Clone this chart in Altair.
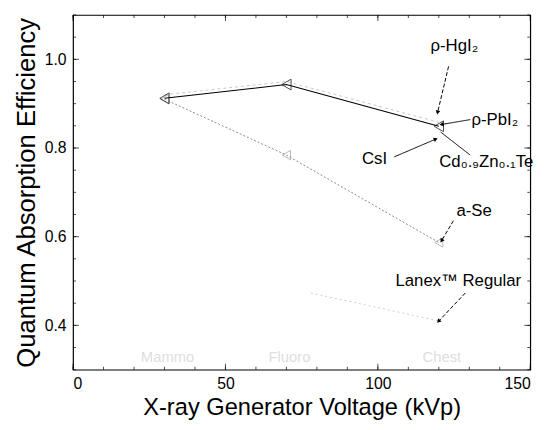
import math
import altair as alt
import pandas as pd

# ---- data ----
kvp = [30, 70, 120]
qae_main = [0.912, 0.943, 0.849]      # p-HgI2 / p-PbI2 / CdZnTe / CsI (black)
qae_gray = [0.92, 0.95, 0.858]        # companion light-grey dashed curve
qae_ase = [0.91, 0.784, 0.587]        # a-Se
lanex_kvp = [78, 120]
lanex_qae = [0.473, 0.41]             # Lanex Regular

label_text = ["ρ-HgI₂", "ρ-PbI₂", "CsI", "Cd₀.₉Zn₀.₁Te", "a-Se", "Lanex™ Regular"]
label_x = [125.1, 138.4, 98.9, 135.6, 131.6, 126.4]
label_y = [1.029, 0.862, 0.776, 0.769, 0.658, 0.500]

arrow_x1 = [123.2, 130.3, 105.4, 130.3, 124.8, 128.7]
arrow_y1 = [0.984, 0.864, 0.780, 0.784, 0.636, 0.473]
arrow_x2 = [119.6, 120.9, 119.0, 120.6, 120.9, 119.9]
arrow_y2 = [0.880, 0.853, 0.820, 0.836, 0.591, 0.409]
arrow_dash = ["dash", "solid", "solid", "solid", "dash", "dash"]
arrow_head = [True, True, True, False, True, True]

exam_text = ["Mammo", "Fluoro", "Chest"]
exam_x = [31, 71, 121]
exam_y = [0.329, 0.329, 0.329]

x_major = [0, 50, 100, 150]
x_minor = list(range(0, 151, 10))
y_major = [0.4, 0.6, 0.8, 1.0]
y_minor = [round(0.3 + 0.05 * i, 2) for i in range(17)]

W, H = 464, 360
XD, YD = [0, 150], [0.3, 1.1]
FONT = "Liberation Sans"

# ---- tables ----
main_df = pd.DataFrame({"kvp": kvp, "q": qae_main})
gray_df = pd.DataFrame({"kvp": kvp, "q": qae_gray})
ase_df = pd.DataFrame({"kvp": kvp, "q": qae_ase})
lanex_df = pd.DataFrame({"kvp": lanex_kvp, "q": lanex_qae})
lab_df = pd.DataFrame({"t": label_text, "x": label_x, "y": label_y})
exam_df = pd.DataFrame({"t": exam_text, "x": exam_x, "y": exam_y})
arr_df = pd.DataFrame({"x1": arrow_x1, "y1": arrow_y1, "x2": arrow_x2,
                       "y2": arrow_y2, "dash": arrow_dash, "head": arrow_head})
sx = W / (XD[1] - XD[0])
sy = H / (YD[1] - YD[0])
arr_df["ang"] = [
    math.degrees(math.atan2((b - a) * sx, (d - c) * sy)) % 360
    for a, b, c, d in zip(arr_df.x1, arr_df.x2, arr_df.y1, arr_df.y2)
]
head_df = arr_df[arr_df["head"]]

xs = alt.Scale(domain=XD, nice=False, zero=False)
ys = alt.Scale(domain=YD, nice=False, zero=False)

# ---- axes (labels + titles only; ticks drawn inward below) ----
ax_bottom = alt.Axis(values=x_major, ticks=False, domain=False, grid=False,
                     title="X-ray Generator Voltage (kVp)", format="d",
                     labelFontSize=16, labelFont=FONT, labelColor="black",
                     labelPadding=6, titleFont=FONT, titleFontSize=24,
                     titleFontWeight="normal", titleColor="black", titlePadding=4)
ax_left = alt.Axis(values=y_major, ticks=False, domain=False, grid=False,
                   title="Quantum Absorption Efficiency", format=".1f",
                   labelFontSize=16, labelFont=FONT, labelColor="black",
                   labelPadding=7, titleFont=FONT, titleFontSize=26,
                   titleFontWeight="normal", titleColor="black", titlePadding=5)

base_axes = alt.Chart(main_df).mark_point(opacity=0).encode(
    x=alt.X("kvp:Q", scale=xs, axis=ax_bottom),
    y=alt.Y("q:Q", scale=ys, axis=ax_left),
)


def xticks(vals, length, at, sign):
    d = pd.DataFrame({"v": vals})
    return alt.Chart(d).mark_tick(orient="vertical", size=length, thickness=1,
                                  color="black", yOffset=sign * length / 2).encode(
        x=alt.X("v:Q", scale=xs, axis=None),
        y=alt.YDatum(at, scale=ys, axis=None),
    )


def yticks(vals, length, at, sign):
    d = pd.DataFrame({"v": vals})
    return alt.Chart(d).mark_tick(orient="horizontal", size=length, thickness=1,
                                  color="black", xOffset=sign * length / 2).encode(
        y=alt.Y("v:Q", scale=ys, axis=None),
        x=alt.XDatum(at, scale=xs, axis=None),
    )


tick_layers = [
    xticks(x_minor, 3, YD[0], -1), xticks(x_major, 6, YD[0], -1),
    xticks(x_minor, 3, YD[1], 1), xticks(x_major, 6, YD[1], 1),
    yticks(y_minor, 3, XD[0], 1), yticks(y_major, 6, XD[0], 1),
    yticks(y_minor, 3, XD[1], -1), yticks(y_major, 6, XD[1], -1),
]

X = alt.X("kvp:Q", scale=xs, axis=None)
Y = alt.Y("q:Q", scale=ys, axis=None)

gray_line = alt.Chart(gray_df).mark_line(color="#c8c8c8", strokeWidth=1, strokeDash=[3, 3]).encode(x=X, y=Y)
ase_line = alt.Chart(ase_df).mark_line(color="#8a8a8a", strokeWidth=1, strokeDash=[2, 2]).encode(x=X, y=Y)
ase_pts = alt.Chart(ase_df).mark_point(shape="triangle-left", filled=False, color="#9a9a9a",
                                       size=90, strokeWidth=1).encode(x=X, y=Y)
lanex_line = alt.Chart(lanex_df).mark_line(color="#cccccc", strokeWidth=1, strokeDash=[2, 3]).encode(x=X, y=Y)
main_line = alt.Chart(main_df).mark_line(color="black", strokeWidth=1.1).encode(x=X, y=Y)
main_pts = alt.Chart(main_df).mark_point(shape="triangle-left", filled=False, color="black",
                                         size=120, strokeWidth=1).encode(x=X, y=Y)

arrows = alt.Chart(arr_df).mark_rule(color="black", strokeWidth=1).encode(
    x=alt.X("x1:Q", scale=xs, axis=None), y=alt.Y("y1:Q", scale=ys, axis=None),
    x2="x2:Q", y2="y2:Q",
    strokeDash=alt.StrokeDash("dash:N", scale=alt.Scale(domain=["dash", "solid"],
                                                        range=[[4, 2], [1, 0]]), legend=None),
)
heads = alt.Chart(head_df).mark_point(shape="triangle-up", filled=True, color="black",
                                      size=22, opacity=1).encode(
    x=alt.X("x2:Q", scale=xs, axis=None), y=alt.Y("y2:Q", scale=ys, axis=None),
    angle=alt.Angle("ang:Q", scale=None),
)
labels = alt.Chart(lab_df).mark_text(font=FONT, fontSize=17, color="black").encode(
    x=alt.X("x:Q", scale=xs, axis=None), y=alt.Y("y:Q", scale=ys, axis=None), text="t:N")
exams = alt.Chart(exam_df).mark_text(font=FONT, fontSize=15, color="#dedede").encode(
    x=alt.X("x:Q", scale=xs, axis=None), y=alt.Y("y:Q", scale=ys, axis=None), text="t:N")

chart = alt.layer(
    base_axes, *tick_layers, exams, gray_line, lanex_line, ase_line, ase_pts,
    main_line, main_pts, arrows, heads, labels,
).resolve_axis(x="independent", y="independent").properties(
    width=W, height=H,
    autosize=alt.AutoSizeParams(type="none"),
    padding={"left": 66, "top": 4, "right": 17, "bottom": 50},
    background="white",
).configure_view(stroke="black", strokeWidth=1.2)

chart.save("out.html", embed_options={"renderer": "svg", "actions": False})
